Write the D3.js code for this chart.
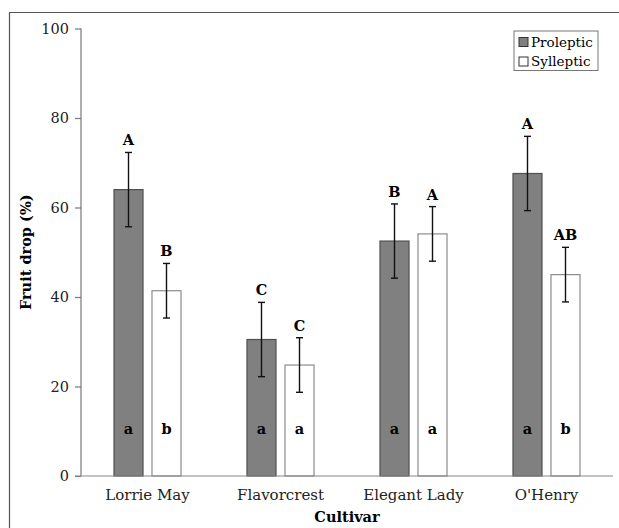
<!DOCTYPE html>
<html>
<head>
<meta charset="utf-8">
<script src="https://cdn.jsdelivr.net/npm/d3@7"></script>
<style>
  body { margin: 0; background: #fff; }
  svg text { font-family: "DejaVu Serif", serif; }
</style>
</head>
<body>
<svg width="619" height="528"></svg>
<script>
var cultivars = ["Lorrie May", "Flavorcrest", "Elegant Lady", "O'Henry"];
var series = ["Proleptic", "Sylleptic"];
var proleptic = [64.0, 30.5, 52.5, 67.6];
var prolepticErr = [8.3, 8.3, 8.3, 8.3];
var sylleptic = [41.4, 24.8, 54.1, 45.0];
var syllepticErr = [6.1, 6.1, 6.1, 6.1];
// letters above bars (between cultivars) and inside bars (within cultivar)
var upperP = ["A", "C", "B", "A"];
var upperS = ["B", "C", "A", "AB"];
var lowerP = ["a", "a", "a", "a"];
var lowerS = ["b", "a", "a", "b"];
var yTicks = [0, 20, 40, 60, 80, 100];

var svg = d3.select("svg");
var margin = {left: 81, right: 6, top: 28.5, bottom: 52};
var width = 619, height = 528;

var x = d3.scaleBand()
  .domain(cultivars)
  .range([margin.left, width - margin.right]);

var y = d3.scaleLinear()
  .domain([0, 100])
  .range([height - margin.bottom, margin.top]);

var sub = d3.scaleBand()
  .domain(series)
  .range([0, x.bandwidth()])
  .paddingInner(0.21)
  .paddingOuter(0.855);

var fills = {Proleptic: "#808080", Sylleptic: "#ffffff"};
var strokes = {Proleptic: "#505050", Sylleptic: "#8c8c8c"};

// frame
svg.append("path")
  .attr("d", "M9.5,528 V12.5 H619")
  .attr("fill", "none")
  .attr("stroke", "#555")
  .attr("stroke-width", 1.2);

var rows = [];
cultivars.forEach(function(c, i) {
  rows.push({c: c, s: "Proleptic", v: proleptic[i], e: prolepticErr[i], up: upperP[i], lo: lowerP[i]});
  rows.push({c: c, s: "Sylleptic", v: sylleptic[i], e: syllepticErr[i], up: upperS[i], lo: lowerS[i]});
});

var g = svg.append("g");

g.selectAll("rect.bar")
  .data(rows)
  .join("rect")
  .attr("class", "bar")
  .attr("x", d => x(d.c) + sub(d.s) + 0.5)
  .attr("y", d => y(d.v))
  .attr("width", sub.bandwidth() - 1)
  .attr("height", d => y(0) - y(d.v))
  .attr("fill", d => fills[d.s])
  .attr("stroke", d => strokes[d.s])
  .attr("stroke-width", 1.2);

var cx = d => x(d.c) + sub(d.s) + sub.bandwidth() / 2;

// error bars
var err = g.selectAll("g.err")
  .data(rows)
  .join("g")
  .attr("class", "err")
  .attr("stroke", "#111")
  .attr("stroke-width", 1.4);

err.append("line")
  .attr("x1", cx).attr("x2", cx)
  .attr("y1", d => y(d.v + d.e))
  .attr("y2", d => y(d.v - d.e));
err.append("line")
  .attr("x1", d => cx(d) - 3.5).attr("x2", d => cx(d) + 3.5)
  .attr("y1", d => y(d.v + d.e)).attr("y2", d => y(d.v + d.e));
err.append("line")
  .attr("x1", d => cx(d) - 3.5).attr("x2", d => cx(d) + 3.5)
  .attr("y1", d => y(d.v - d.e)).attr("y2", d => y(d.v - d.e));

g.selectAll("text.up")
  .data(rows)
  .join("text")
  .attr("class", "up")
  .attr("x", cx)
  .attr("y", d => y(d.v + d.e) - 7)
  .attr("text-anchor", "middle")
  .attr("font-weight", "bold")
  .attr("font-size", 14.5)
  .text(d => d.up);

g.selectAll("text.lo")
  .data(rows)
  .join("text")
  .attr("class", "lo")
  .attr("x", cx)
  .attr("y", 434)
  .attr("text-anchor", "middle")
  .attr("font-weight", "bold")
  .attr("font-size", 14.5)
  .text(d => d.lo);

// y axis
var yAxis = svg.append("g")
  .attr("transform", "translate(" + margin.left + ",0)")
  .call(d3.axisLeft(y).tickValues(yTicks).tickSize(6).tickPadding(6));
yAxis.selectAll("path, line").attr("stroke", "#777").attr("stroke-width", 1.2);
yAxis.selectAll("text").attr("font-size", 14.5).attr("fill", "#222");
yAxis.select(".domain").attr("d", "M0," + y(100) + "V" + y(0));
yAxis.attr("font-family", null);

// x axis
var xAxis = svg.append("g")
  .attr("transform", "translate(0," + y(0) + ")")
  .call(d3.axisBottom(x).tickSize(0).tickPadding(13));
xAxis.select(".domain").attr("d", "M" + (margin.left - 6) + ",0H" + (width - margin.right))
  .attr("stroke", "#888").attr("stroke-width", 1.2);
xAxis.selectAll("text").attr("font-size", 15).attr("fill", "#222");
xAxis.attr("font-family", null);

// axis titles
svg.append("text")
  .attr("x", (margin.left + width - margin.right) / 2)
  .attr("y", 522)
  .attr("text-anchor", "middle")
  .attr("font-weight", "bold")
  .attr("font-size", 14.5)
  .text("Cultivar");

svg.append("text")
  .attr("transform", "translate(31," + y(50) + ") rotate(-90)")
  .attr("text-anchor", "middle")
  .attr("font-weight", "bold")
  .attr("font-size", 14.5)
  .text("Fruit drop (%)");

// legend
var leg = svg.append("g").attr("transform", "translate(514,31)");
leg.append("rect")
  .attr("width", 84).attr("height", 39.5)
  .attr("fill", "#fff").attr("stroke", "#777");
series.forEach(function(s, i) {
  leg.append("rect")
    .attr("x", 5).attr("y", 6.5 + i * 19.5)
    .attr("width", 9).attr("height", 9)
    .attr("fill", fills[s]).attr("stroke", "#333");
  leg.append("text")
    .attr("x", 17).attr("y", 15.5 + i * 19.5)
    .attr("font-size", 13.5)
    .text(s);
});
</script>
</body>
</html>
